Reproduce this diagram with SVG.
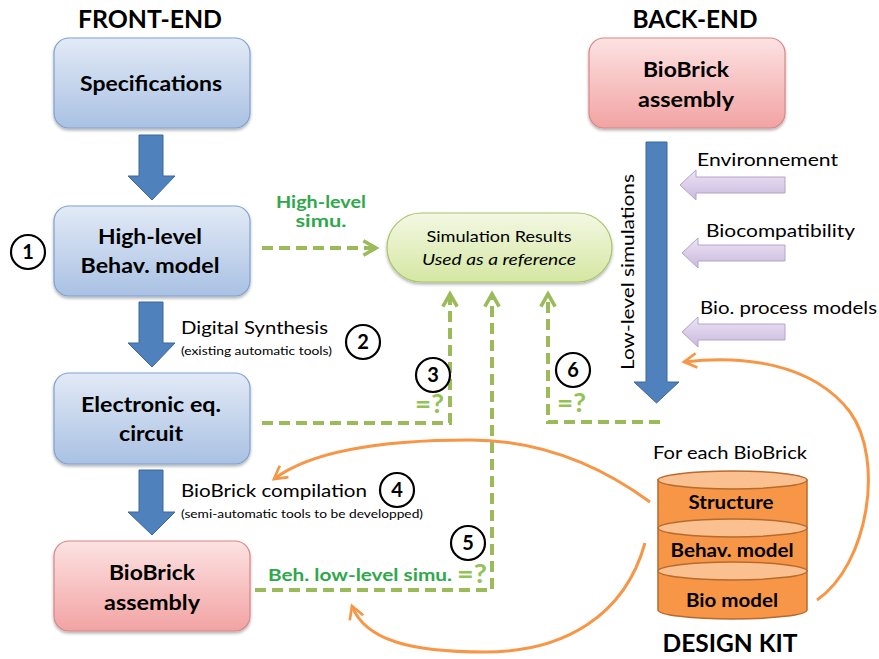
<svg xmlns="http://www.w3.org/2000/svg" width="879" height="659" viewBox="0 0 879 659">
<defs>
<linearGradient id="gBlue" x1="0" y1="0" x2="0" y2="1"><stop offset="0" stop-color="#e2eaf6"/><stop offset="1" stop-color="#a9c1e3"/></linearGradient>
<linearGradient id="gRed" x1="0" y1="0" x2="0" y2="1"><stop offset="0" stop-color="#fde2e2"/><stop offset="1" stop-color="#f2a3a3"/></linearGradient>
<linearGradient id="gGreen" x1="0" y1="0" x2="0" y2="1"><stop offset="0" stop-color="#f3f8e3"/><stop offset="1" stop-color="#d5e7a2"/></linearGradient>
<linearGradient id="gPurple" x1="0" y1="0" x2="0" y2="1"><stop offset="0" stop-color="#ece4f4"/><stop offset="1" stop-color="#c9b9de"/></linearGradient>
<filter id="sh" x="-10%" y="-10%" width="130%" height="140%"><feDropShadow dx="0" dy="2" stdDeviation="1.5" flood-color="#000" flood-opacity="0.3"/></filter>
<marker id="gArrow" viewBox="0 0 10 10" refX="8" refY="5" markerWidth="4.5" markerHeight="4.5" orient="auto" markerUnits="strokeWidth"><path d="M1,1 L8,5 L1,9" fill="none" stroke="#9bbb59" stroke-width="2"/></marker>
<marker id="oArrow" viewBox="0 0 10 10" refX="8" refY="5" markerWidth="6" markerHeight="6" orient="auto" markerUnits="strokeWidth"><path d="M1,1 L8,5 L1,9" fill="none" stroke="#f79646" stroke-width="1.5"/></marker>
</defs>
<style>
.t{font-family:Lato,"Open Sans","Liberation Sans",sans-serif;fill:#000}
.b{font-weight:bold}
.box{stroke-width:1.2}
.blue{fill:url(#gBlue);stroke:#7ea1d1}
.red{fill:url(#gRed);stroke:#d98585}
.barrow{fill:#4f81bd;stroke:#3c6799;stroke-width:1}
.parrow{fill:url(#gPurple);stroke:#b4a4c8;stroke-width:1}
.dash{fill:none;stroke:#9bbb59;stroke-width:4;stroke-dasharray:11,6}
.orange{fill:none;stroke:#f79646;stroke-width:3}
.num{fill:#fff;stroke:#000;stroke-width:2.2}
.g{fill:#2ea84a}
.lg{fill:#92c353}
.cyl{fill:#f79646;stroke:#b86a2e;stroke-width:1.5}
.cyltop{fill:#fac08f;stroke:#b86a2e;stroke-width:1.5}
</style>

<text class="t b" x="150" y="28" font-size="24" text-anchor="middle" textLength="144" lengthAdjust="spacingAndGlyphs">FRONT-END</text>
<text class="t b" x="695" y="28" font-size="24" text-anchor="middle" textLength="125" lengthAdjust="spacingAndGlyphs">BACK-END</text>

<g id="specifications">
<rect class="box blue" x="54" y="38" width="196" height="90" rx="15" filter="url(#sh)"/>
<text class="t b" x="151" y="91" font-size="21" text-anchor="middle" textLength="142" lengthAdjust="spacingAndGlyphs">Specifications</text>
</g>
<g id="highlevel">
<rect class="box blue" x="54" y="206" width="196" height="90" rx="15" filter="url(#sh)"/>
<text class="t b" x="150" y="244" font-size="21" text-anchor="middle" textLength="104" lengthAdjust="spacingAndGlyphs">High-level</text>
<text class="t b" x="150" y="273" font-size="21" text-anchor="middle" textLength="139" lengthAdjust="spacingAndGlyphs">Behav. model</text>
</g>
<g id="electronic">
<rect class="box blue" x="54" y="373" width="196" height="91" rx="15" filter="url(#sh)"/>
<text class="t b" x="151" y="412" font-size="21" text-anchor="middle" textLength="140" lengthAdjust="spacingAndGlyphs">Electronic eq.</text>
<text class="t b" x="151" y="441" font-size="21" text-anchor="middle" textLength="64" lengthAdjust="spacingAndGlyphs">circuit</text>
</g>
<g id="biobrick-front">
<rect class="box red" x="54" y="541" width="196" height="90" rx="15" filter="url(#sh)"/>
<text class="t b" x="152" y="580" font-size="21" text-anchor="middle" textLength="86" lengthAdjust="spacingAndGlyphs">BioBrick</text>
<text class="t b" x="152" y="610" font-size="21" text-anchor="middle" textLength="96" lengthAdjust="spacingAndGlyphs">assembly</text>
</g>
<g id="biobrick-back">
<rect class="box red" x="589" y="38" width="196" height="90" rx="15" filter="url(#sh)"/>
<text class="t b" x="686" y="77" font-size="21" text-anchor="middle" textLength="86" lengthAdjust="spacingAndGlyphs">BioBrick</text>
<text class="t b" x="686" y="107" font-size="21" text-anchor="middle" textLength="96" lengthAdjust="spacingAndGlyphs">assembly</text>
</g>
<g id="simresults">
<rect x="387" y="213" width="225" height="69" rx="34.5" fill="url(#gGreen)" stroke="#a9c46b" stroke-width="1.2" filter="url(#sh)"/>
<text class="t" x="499" y="242" font-size="16" text-anchor="middle" fill="#333" textLength="145" lengthAdjust="spacingAndGlyphs">Simulation Results</text>
<text class="t" x="499" y="265" font-size="16" text-anchor="middle" font-style="italic" fill="#333" textLength="154" lengthAdjust="spacingAndGlyphs">Used as a reference</text>
</g>

<g id="design-kit">
<text class="t" x="730" y="459" font-size="17" text-anchor="middle" textLength="154" lengthAdjust="spacingAndGlyphs">For each BioBrick</text>
<path class="cyl" d="M658,480 L658,610 A74.5,9 0 0 0 807,610 L807,480 Z"/>
<ellipse class="cyltop" cx="732.5" cy="480" rx="74.5" ry="9"/>
<ellipse class="cyltop" cx="732.5" cy="528" rx="74.5" ry="9"/>
<ellipse class="cyltop" cx="732.5" cy="571" rx="74.5" ry="9"/>
<text class="t b" x="731" y="509" font-size="19" text-anchor="middle" textLength="85" lengthAdjust="spacingAndGlyphs">Structure</text>
<text class="t b" x="732" y="557" font-size="19" text-anchor="middle" textLength="123" lengthAdjust="spacingAndGlyphs">Behav. model</text>
<text class="t b" x="732" y="607" font-size="19" text-anchor="middle" textLength="92" lengthAdjust="spacingAndGlyphs">Bio model</text>
<text class="t b" x="730" y="652" font-size="25" text-anchor="middle" textLength="135" lengthAdjust="spacingAndGlyphs">DESIGN KIT</text>
</g>

<g id="connectors">
<path class="barrow" d="M139,135 L163,135 L163,176 L175,176 L152,200 L128,176 L139,176 Z"/>
<path class="barrow" d="M139,302 L163,302 L163,343 L175,343 L152,367 L128,343 L139,343 Z"/>
<path class="barrow" d="M139,470 L163,470 L163,512 L175,512 L152,535 L128,512 L139,512 Z"/>
<path class="barrow" d="M646,142 L667,142 L667,382 L679,382 L656.5,403 L634,382 L646,382 Z"/>
<text class="t" x="0" y="0" font-size="17" text-anchor="middle" transform="translate(634,272) rotate(-90)" textLength="196" lengthAdjust="spacingAndGlyphs">Low-level simulations</text>

<path class="parrow" d="M785,177 L696,177 L696,170 L680,185 L696,200 L696,193 L785,193 Z"/>
<path class="parrow" d="M785,245 L698,245 L698,238 L682,253 L698,268 L698,261 L785,261 Z"/>
<path class="parrow" d="M785,324 L698,324 L698,317 L682,332 L698,347 L698,340 L785,340 Z"/>
<text class="t" x="697" y="166" font-size="17" textLength="141" lengthAdjust="spacingAndGlyphs">Environnement</text>
<text class="t" x="706" y="237" font-size="17" textLength="149" lengthAdjust="spacingAndGlyphs">Biocompatibility</text>
<text class="t" x="700" y="314" font-size="17" textLength="177" lengthAdjust="spacingAndGlyphs">Bio. process models</text>

<path class="dash" d="M262,248 L376,248" marker-end="url(#gArrow)"/>
<text class="t b g" x="321" y="208" font-size="17" text-anchor="middle" textLength="90" lengthAdjust="spacingAndGlyphs">High-level</text>
<text class="t b g" x="321" y="227" font-size="17" text-anchor="middle" textLength="51" lengthAdjust="spacingAndGlyphs">simu.</text>
<path class="dash" d="M262,423 L450,423 L450,294" marker-end="url(#gArrow)"/>
<path class="dash" d="M255,590 L492,590 L492,294" marker-end="url(#gArrow)"/>
<path class="dash" d="M660,422 L548,422 L548,294" marker-end="url(#gArrow)"/>
<text class="t b lg" x="415" y="413" font-size="27" textLength="29" lengthAdjust="spacingAndGlyphs">=?</text>
<text class="t b lg" x="557" y="412" font-size="27" textLength="29" lengthAdjust="spacingAndGlyphs">=?</text>
<text class="t b lg" x="457" y="583" font-size="27" textLength="30" lengthAdjust="spacingAndGlyphs">=?</text>
<text class="t b g" x="268" y="581" font-size="17" textLength="184" lengthAdjust="spacingAndGlyphs">Beh. low-level simu.</text>

<path class="orange" d="M650,502 C590,458 530,440 470,440 C380,440 310,452 274,479" marker-end="url(#oArrow)"/>
<path class="orange" d="M645,543 C625,615 565,652 485,652 C410,652 365,640 352,606" marker-end="url(#oArrow)"/>
<path class="orange" d="M817,600 C868,565 885,460 850,412 C812,362 740,355 684,362" marker-end="url(#oArrow)"/>
</g>

<text class="t" x="181" y="334" font-size="17" textLength="147" lengthAdjust="spacingAndGlyphs">Digital Synthesis</text>
<text class="t" x="181" y="355" font-size="11" textLength="151" lengthAdjust="spacingAndGlyphs">(existing automatic tools)</text>
<text class="t" x="181" y="497" font-size="17" textLength="186" lengthAdjust="spacingAndGlyphs">BioBrick compilation</text>
<text class="t" x="181" y="518" font-size="11" textLength="242" lengthAdjust="spacingAndGlyphs">(semi-automatic tools to be developped)</text>

<g id="n1"><circle class="num" cx="28" cy="252" r="17"/><text class="t b" x="28" y="259" font-size="20" text-anchor="middle">1</text></g>
<g id="n2"><circle class="num" cx="363" cy="342" r="17"/><text class="t b" x="363" y="349" font-size="20" text-anchor="middle">2</text></g>
<g id="n3"><circle class="num" cx="433" cy="375" r="17"/><text class="t b" x="433" y="382" font-size="20" text-anchor="middle">3</text></g>
<g id="n4"><circle class="num" cx="397" cy="490" r="17"/><text class="t b" x="397" y="497" font-size="20" text-anchor="middle">4</text></g>
<g id="n5"><circle class="num" cx="468" cy="543" r="17"/><text class="t b" x="468" y="550" font-size="20" text-anchor="middle">5</text></g>
<g id="n6"><circle class="num" cx="573" cy="370" r="17"/><text class="t b" x="573" y="377" font-size="20" text-anchor="middle">6</text></g>
</svg>
